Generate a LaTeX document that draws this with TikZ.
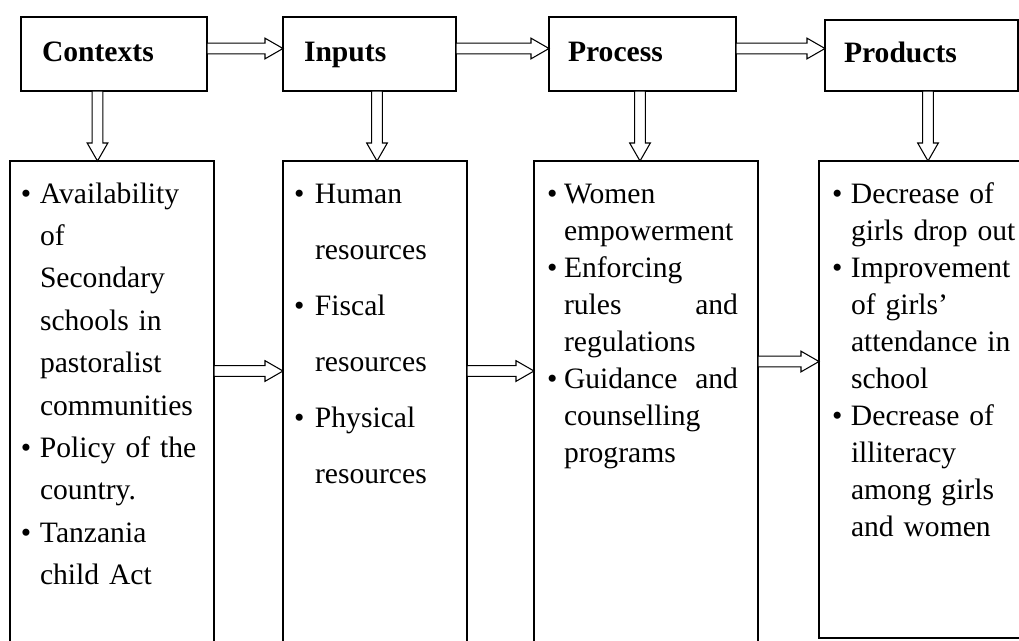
\documentclass[tikz,border=0pt]{standalone}
\usepackage{fontspec}
\setmainfont{Liberation Serif}
\usetikzlibrary{calc}
\newcommand{\blockarrow}[2]{%
  \coordinate (hb) at ($(#2)!13.5pt!(#1)$);
  \draw[arrowline] ($(#1)!4pt!90:(#2)$) -- ($(hb)!4pt!90:(#2)$) -- ($(hb)!7.75pt!90:(#2)$)
    -- (#2) -- ($(hb)!7.75pt!-90:(#2)$) -- ($(hb)!4pt!-90:(#2)$) -- ($(#1)!4pt!-90:(#2)$) -- cycle;}
\begin{document}
\begin{tikzpicture}[x=0.75pt,y=-0.75pt,
  arrowline/.style={draw=black,fill=white,line width=0.8pt,line join=miter},
  headbox/.style={draw=black,line width=1.1pt,anchor=north west,outer sep=0pt,inner ysep=0pt,
    align=left,font=\fontsize{22.2}{26}\selectfont\bfseries},
  listbox/.style={draw=black,line width=1.1pt,anchor=north west,outer sep=0pt,inner ysep=0pt,
    align=left,text height=31.5pt}]
\useasboundingbox (0,0) rectangle (1019,640);

% top boxes
\node[headbox,inner xsep=15.75pt,text width=108pt,text height=33pt,text depth=22.5pt] (ctx) at (21,17) {Contexts};
\node[headbox,inner xsep=15.75pt,text width=98.25pt,text height=33pt,text depth=22.5pt] (inp) at (283,17) {Inputs};
\node[headbox,inner xsep=14.25pt,text width=111.75pt,text height=33pt,text depth=22.5pt] (pro) at (549,17) {Process};
\node[headbox,inner xsep=14.25pt,text width=116.25pt,text height=31.875pt,text depth=21.375pt] (prd) at (825,20) {Products};

% list boxes
\node[listbox,inner xsep=8.25pt,text width=136.5pt,text depth=335.25pt,font=\fontsize{22.2}{31.8}\selectfont] (ctxl) at (10,161) {%
\begin{tabular}[t]{@{}p{14.25pt}@{}l@{}}
\textbullet & Availability\\
 & of\\
 & Secondary\\
 & schools in\\
 & pastoralist\\
 & communities\\
\textbullet & Policy of the\\
 & country.\\
\textbullet & Tanzania\\
 & child Act
\end{tabular}};

\node[listbox,inner xsep=8.25pt,text width=121.5pt,text depth=335.25pt,font=\fontsize{22.2}{42}\selectfont] (inl) at (283,161) {%
\begin{tabular}[t]{@{}p{15.75pt}@{}l@{}}
\textbullet & Human\\
 & resources\\
\textbullet & Fiscal\\
 & resources\\
\textbullet & Physical\\
 & resources
\end{tabular}};

\node[listbox,inner xsep=9.75pt,text width=148.5pt,text depth=335.25pt,font=\fontsize{22.2}{27.75}\selectfont] (prol) at (534,161) {%
\begin{tabular}[t]{@{}p{12.75pt}@{}l@{}}
\textbullet & Women\\
 & empowerment\\
\textbullet & Enforcing\\
 & \makebox[130.5pt][l]{rules\hfill and}\\
 & regulations\\
\textbullet & \makebox[130.5pt][l]{Guidance\hfill and}\\
 & counselling\\
 & programs
\end{tabular}};

\node[listbox,inner xsep=9.75pt,text width=250pt,text depth=326.25pt,font=\fontsize{22.2}{27.75}\selectfont] (prdl) at (819,161) {%
\begin{tabular}[t]{@{}p{14.25pt}@{}l@{}}
\textbullet & Decrease of\\
 & girls drop out\\
\textbullet & Improvement\\
 & of girls’\\
 & attendance in\\
 & school\\
\textbullet & Decrease of\\
 & illiteracy\\
 & among girls\\
 & and women
\end{tabular}};

% top horizontal arrows
\coordinate (h1s) at ($(ctx.east)+(0,-5.5)$);
\coordinate (h1e) at (h1s -| inp.west);
\blockarrow{h1s}{h1e}
\coordinate (h2s) at ($(inp.east)+(0,-5.5)$);
\coordinate (h2e) at (h2s -| pro.west);
\blockarrow{h2s}{h2e}
\coordinate (h3s) at ($(pro.east)+(0,-5.5)$);
\coordinate (h3e) at (h3s -| prd.west);
\blockarrow{h3s}{h3e}

% vertical arrows
\coordinate (v1s) at ($(ctx.south)+(-16.5,0)$);
\coordinate (v1e) at (v1s |- ctxl.north);
\blockarrow{v1s}{v1e}
\coordinate (v2s) at ($(inp.south)+(7.5,0)$);
\coordinate (v2e) at (v2s |- inl.north);
\blockarrow{v2s}{v2e}
\coordinate (v3s) at ($(pro.south)+(-2.5,0)$);
\coordinate (v3e) at (v3s |- prol.north);
\blockarrow{v3s}{v3e}
\coordinate (v4s) at ($(prd.south)+(6.5,0)$);
\coordinate (v4e) at (v4s |- prdl.north);
\blockarrow{v4s}{v4e}

% middle horizontal arrows
\coordinate (m1s) at ($(ctxl.north east)+(0,210)$);
\coordinate (m1e) at (m1s -| inl.west);
\blockarrow{m1s}{m1e}
\coordinate (m2s) at ($(inl.north east)+(0,210)$);
\coordinate (m2e) at (m2s -| prol.west);
\blockarrow{m2s}{m2e}
\coordinate (m3s) at ($(prol.north east)+(0,200.5)$);
\coordinate (m3e) at (m3s -| prdl.west);
\blockarrow{m3s}{m3e}
\end{tikzpicture}
\end{document}
